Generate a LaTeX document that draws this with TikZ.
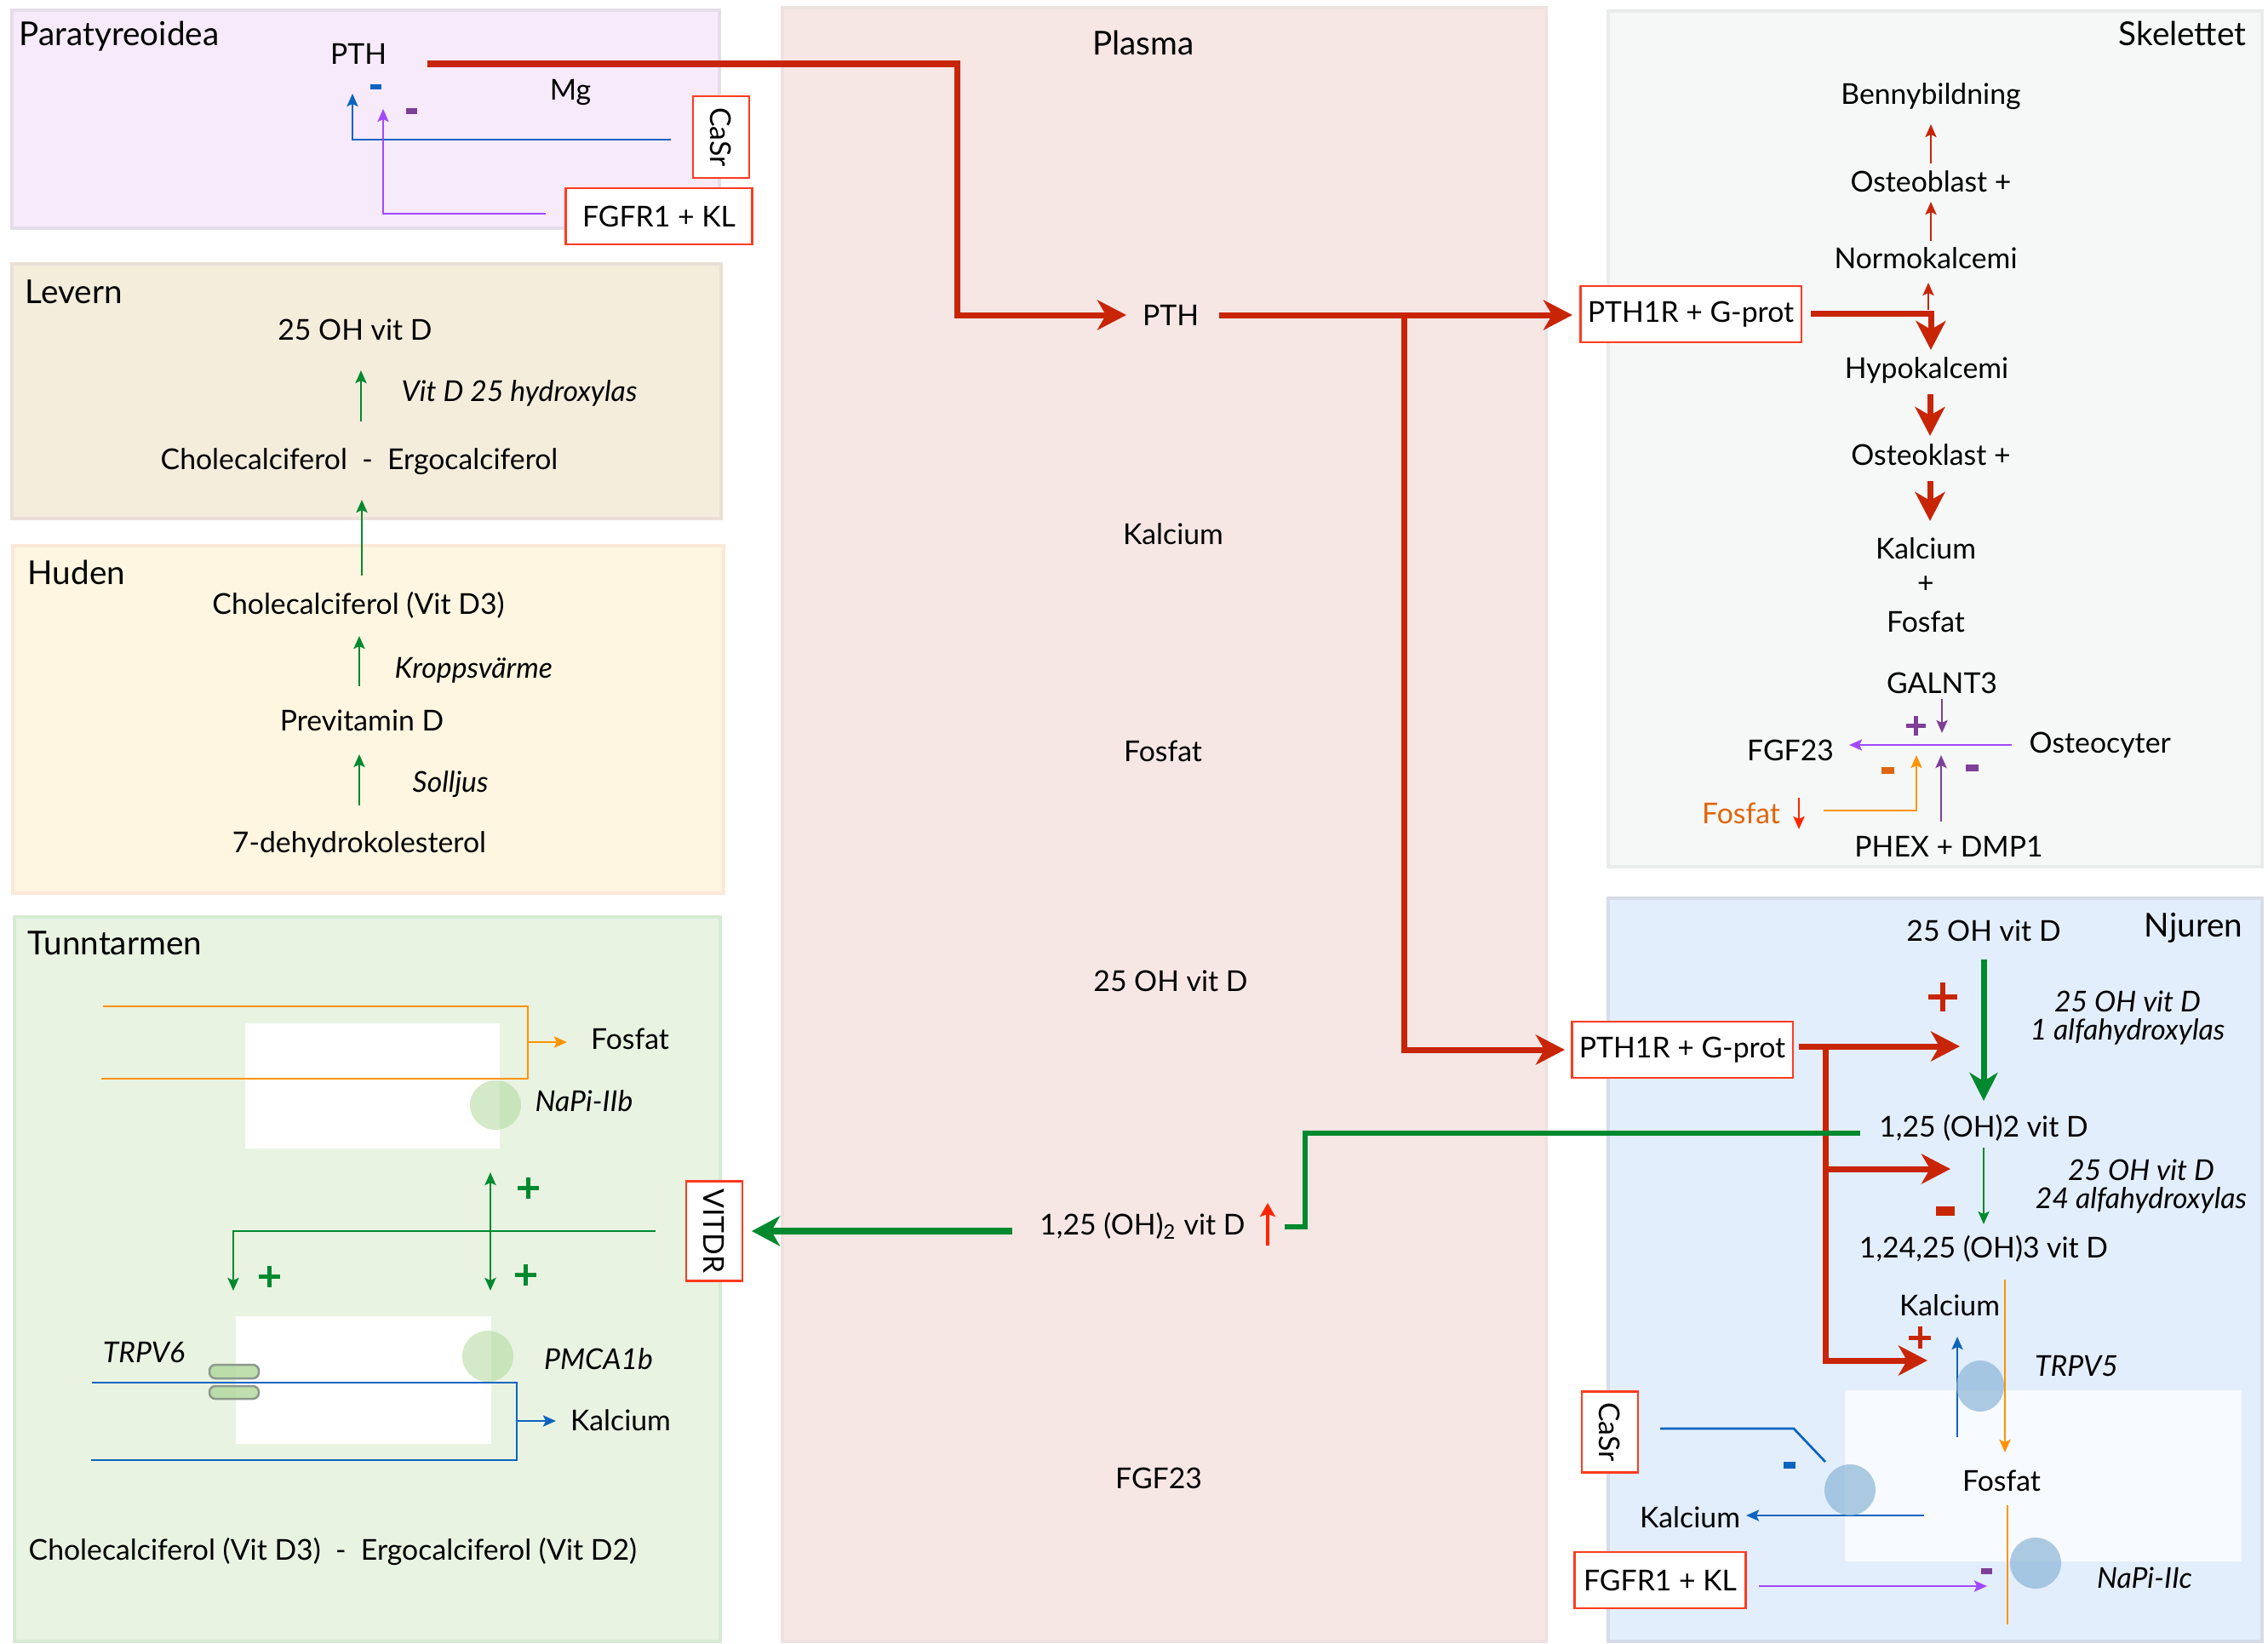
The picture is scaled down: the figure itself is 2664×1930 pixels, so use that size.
\documentclass[tikz,border=0pt]{standalone}
\usepackage{fontspec}
\setmainfont{Lato}
\usetikzlibrary{arrows.meta}

% line and sign colours
\definecolor{pthred}{RGB}{200,37,6}
\definecolor{boxred}{RGB}{255,59,30}
\definecolor{vdgreen}{RGB}{0,137,46}
\definecolor{cablue}{RGB}{11,100,192}
\definecolor{lilac}{RGB}{161,72,255}
\definecolor{plum}{RGB}{126,63,152}
\definecolor{amber}{RGB}{255,147,0}
\definecolor{rust}{RGB}{224,101,10}
\definecolor{alert}{RGB}{255,38,0}
% organ panels
\definecolor{paraF}{RGB}{247,234,251}\definecolor{paraB}{RGB}{230,221,234}
\definecolor{levF}{RGB}{245,237,220}\definecolor{levB}{RGB}{234,224,216}
\definecolor{hudF}{RGB}{254,246,224}\definecolor{hudB}{RGB}{252,232,214}
\definecolor{tunF}{RGB}{232,243,226}\definecolor{tunB}{RGB}{214,235,210}
\definecolor{plaF}{RGB}{246,231,229}\definecolor{plaB}{RGB}{238,226,225}
\definecolor{skeF}{RGB}{246,248,248}\definecolor{skeB}{RGB}{234,236,236}
\definecolor{njuF}{RGB}{227,238,252}\definecolor{njuB}{RGB}{213,221,232}
\definecolor{cellF}{RGB}{247,250,254}
\definecolor{gutcarrier}{RGB}{175,216,155}
\definecolor{kidcarrier}{RGB}{140,182,215}
\definecolor{chanB}{RGB}{140,152,140}

% stimulating / inhibiting marks
\newcommand{\plusmark}[5]{\draw[#5, line width=#4] ({#1-#3/2},#2) -- ({#1+#3/2},#2) (#1,{#2-#3/2}) -- (#1,{#2+#3/2});}
\newcommand{\minusmark}[5]{\fill[#5] ({#1-#3/2},{#2-#4/2}) rectangle ({#1+#3/2},{#2+#4/2});}

\begin{document}
\begin{tikzpicture}[x=0.01cm,y=-0.01cm,
  every node/.style={inner sep=0pt},
  font=\fontsize{9.6}{11.5}\selectfont,
  >={Stealth[length=1.5mm,width=1.3mm,inset=0.3mm]},
  ttl/.style={font=\fontsize{11}{13.2}\selectfont},
  itx/.style={font=\fontsize{9.6}{9.4}\selectfont\itshape, align=center},
  region/.style={line width=0.45mm},
  rbox/.style={draw=boxred, fill=white, line width=0.22mm, minimum height=6.6mm},
  vbox/.style={rbox, rotate=-90},
  tarr/.style={line width=0.27mm, ->},
  tline/.style={line width=0.27mm},
  bigarr/.style={line width=0.7mm, -{Stealth[length=3.4mm,width=3.5mm,inset=1mm]}},
  bigline/.style={line width=0.7mm},
  gutcell/.style={fill=white},
  gutpump/.style={fill=gutcarrier, fill opacity=0.55},
  kidpump/.style={fill=kidcarrier, fill opacity=0.7},
]
\useasboundingbox (0,0) rectangle (2664,1930);

% ---------- panels ----------
\draw[region, draw=paraB, fill=paraF] (14,12) rectangle (845,268);
\draw[region, draw=levB, fill=levF] (14,310) rectangle (847,609);
\draw[region, draw=hudB, fill=hudF] (15,641) rectangle (850,1049);
\draw[region, draw=tunB, fill=tunF] (17,1077) rectangle (846,1928);
\draw[region, draw=plaB, fill=plaF] (919,9) rectangle (1816,1928);
\draw[region, draw=skeB, fill=skeF] (1889,13) rectangle (2657,1018);
\draw[region, draw=njuB, fill=njuF] (1889,1055) rectangle (2657,1928);

\node[ttl, anchor=west] (tPara) at (22,43) {Paratyreoidea};
\node[ttl, anchor=west] (tLev) at (29,343) {Levern};
\node[ttl, anchor=west] (tHud) at (32,672) {Huden};
\node[ttl, anchor=west] (tTun) at (32,1108) {Tunntarmen};
\node[ttl] (tPla) at (1343,50) {Plasma};
\node[ttl, anchor=east] (tSke) at (2639,39) {Skelettet};
\node[ttl, anchor=east] (tNju) at (2635,1090) {Njuren};

% ---------- cells ----------
\fill[gutcell] (288,1202) rectangle (587,1349);
\fill[gutcell] (277,1546) rectangle (577,1696);
\fill[cellF] (2167,1633) rectangle (2633,1834);

% ---------- Paratyreoidea ----------
\node (pthP) at (421,63) {PTH};
\node (mgP) at (670,108) {Mg};
\coordinate (bP1) at (788,164); \coordinate (bP2) at (414,164); \coordinate (bP3) at (414,110);
\draw[tarr, cablue] (bP1) -- (bP2) -- (bP3);
\coordinate (vP1) at (641,251); \coordinate (vP2) at (450,251); \coordinate (vP3) at (450,128);
\draw[tarr, lilac] (vP1) -- (vP2) -- (vP3);
\minusmark{441}{102}{13}{6}{cablue}
\minusmark{483}{130}{13}{7}{plum}
\node[vbox, minimum width=9.6mm] (casrP) at (847,161) {CaSr};
\node[rbox, minimum width=21.9mm] (fgfrP) at (774,254) {FGFR1 + KL};

% ---------- Levern / Huden ----------
\node (ohL) at (417,387) {25 OH vit D};
\node[itx, anchor=west] (hydL) at (471,462) {Vit D 25 hydroxylas};
\node (cholL) at (422,542) {Cholecalciferol\ \ -\ \ Ergocalciferol};
\coordinate (aL1) at (424,495); \coordinate (aL2) at (424,435);
\draw[tarr, vdgreen] (aL1) -- (aL2);
\coordinate (aH0) at (425,676); \coordinate (aL3) at (425,587);
\draw[tarr, vdgreen] (aH0) -- (aL3);
\node (d3H) at (421,711) {Cholecalciferol (Vit D3)};
\node[itx, anchor=west] (kvH) at (463,787) {Kroppsvärme};
\node (preH) at (425,846) {Previtamin D};
\node[itx, anchor=west] (sjH) at (484,921) {Solljus};
\node (dhcH) at (422,992) {7-dehydrokolesterol};
\coordinate (aH1) at (422,806); \coordinate (aH2) at (422,747);
\draw[tarr, vdgreen] (aH1) -- (aH2);
\coordinate (aH3) at (422,946); \coordinate (aH4) at (422,886);
\draw[tarr, vdgreen] (aH3) -- (aH4);

% ---------- Plasma ----------
\node (pthM) at (1375,370) {PTH};
\node (caM) at (1378,627) {Kalcium};
\node (phM) at (1366,882) {Fosfat};
\node (ohM) at (1375,1152) {25 OH vit D};
\node (dM) at (1342,1440) {1,25 (OH)\textsubscript{2} vit D};
\node (fgfM) at (1361,1736) {FGF23};
\coordinate (upM1) at (1489,1463); \coordinate (upM2) at (1489,1413);
\draw[alert, line width=0.4mm, -{Stealth[length=1.6mm,width=1.8mm,inset=0.3mm]}] (upM1) -- (upM2);

% PTH secretion
\coordinate (rP0) at (502,75); \coordinate (rP1) at (1124,75);
\coordinate (rP2) at (1124,370); \coordinate (rM0) at (1323,370);
\draw[bigarr, pthred] (rP0) -- (rP1) -- (rP2) -- (rM0);
\coordinate (rM1) at (1432,370); \coordinate (rM2) at (1847,370);
\draw[bigarr, pthred] (rM1) -- (rM2);
\coordinate (rM3) at (1649,370); \coordinate (rM4) at (1649,1233); \coordinate (rM5) at (1838,1233);
\draw[bigarr, pthred] (rM3) -- (rM4) -- (rM5);

% ---------- Skelettet ----------
\node (benS) at (2268,113) {Bennybildning};
\node (obS) at (2268,213) {Osteoblast +};
\node (normS) at (2262,303) {Normokalcemi};
\node (hypoS) at (2263,435) {Hypokalcemi};
\node (okS) at (2268,534) {Osteoklast +};
\node (caS) at (2262,644) {Kalcium};
\node (plS) at (2262,687) {+};
\node (phS) at (2262,730) {Fosfat};
\node (galS) at (2281,802) {GALNT3};
\node (fgfS) at (2103,881) {FGF23};
\node[anchor=west] (ocS) at (2383,875) {Osteocyter};
\node[text=rust] (phoS) at (2045,955) {Fosfat};
\node (phexS) at (2289,994) {PHEX + DMP1};

\coordinate (sA1) at (2268,192); \coordinate (sA2) at (2268,146);
\draw[tarr, pthred] (sA1) -- (sA2);
\coordinate (sA3) at (2268,283); \coordinate (sA4) at (2268,237);
\draw[tarr, pthred] (sA3) -- (sA4);
\coordinate (sA5) at (2265,364); \coordinate (sA6) at (2265,332);
\draw[tarr, pthred] (sA5) -- (sA6);
\coordinate (sR0) at (2127,368); \coordinate (sR1) at (2268,368); \coordinate (sR2) at (2268,411);
\draw[bigarr, pthred] (sR0) -- (sR1) -- (sR2);
\coordinate (sB1) at (2267,463); \coordinate (sB2) at (2267,512);
\draw[bigarr, pthred] (sB1) -- (sB2);
\coordinate (sB3) at (2267,565); \coordinate (sB4) at (2267,612);
\draw[bigarr, pthred] (sB3) -- (sB4);
\node[rbox, minimum width=25.9mm] (pthrS) at (1986,369) {PTH1R + G-prot};

\coordinate (gS1) at (2281,821); \coordinate (gS2) at (2281,861);
\draw[tarr, plum] (gS1) -- (gS2);
\plusmark{2250}{852}{23}{0.5mm}{plum}
\coordinate (oS1) at (2363,875); \coordinate (oS2) at (2172,875);
\draw[tarr, lilac] (oS1) -- (oS2);
\coordinate (fS1) at (2142,952); \coordinate (fS2) at (2251,952); \coordinate (fS3) at (2251,887);
\draw[tarr, amber] (fS1) -- (fS2) -- (fS3);
\coordinate (xS1) at (2280,965); \coordinate (xS2) at (2280,887);
\draw[tarr, plum] (xS1) -- (xS2);
\coordinate (dS1) at (2113,937); \coordinate (dS2) at (2113,974);
\draw[tarr, alert] (dS1) -- (dS2);
\minusmark{2217}{905}{15}{8}{rust}
\minusmark{2316}{902}{15}{8}{plum}

% ---------- Njuren ----------
\node (ohK) at (2330,1093) {25 OH vit D};
\node[itx] (ahK) at (2499,1196) {25 OH vit D\\1 alfahydroxylas};
\node (dK) at (2330,1325) {1,25 (OH)2 vit D};
\node[itx] (bhK) at (2515,1394) {25 OH vit D\\24 alfahydroxylas};
\node (tK) at (2330,1467) {1,24,25 (OH)3 vit D};
\node (caK1) at (2290,1533) {Kalcium};
\node[itx] (trpK) at (2439,1605) {TRPV5};
\node (phK) at (2351,1739) {Fosfat};
\node (caK2) at (1985,1782) {Kalcium};
\node[itx] (napK) at (2519,1853) {NaPi-IIc};

\coordinate (gK1) at (2330,1127); \coordinate (gK2) at (2330,1293);
\draw[vdgreen, line width=0.7mm, -{Stealth[length=3.3mm,width=3.3mm,inset=1mm]}] (gK1) -- (gK2);
\coordinate (gK3) at (2330,1348); \coordinate (gK4) at (2330,1438);
\draw[tarr, vdgreen] (gK3) -- (gK4);
\plusmark{2282}{1171}{34}{0.6mm}{pthred}
\minusmark{2285}{1422}{22}{11}{pthred}

\coordinate (rK0) at (2113,1229); \coordinate (rK1) at (2302,1229);
\draw[bigarr, pthred] (rK0) -- (rK1);
\coordinate (rK2) at (2144,1229); \coordinate (rK3) at (2144,1598); \coordinate (rK4) at (2264,1598);
\draw[bigarr, pthred] (rK2) -- (rK3) -- (rK4);
\coordinate (rK5) at (2144,1373); \coordinate (rK6) at (2291,1373);
\draw[bigarr, pthred] (rK5) -- (rK6);
\plusmark{2255}{1571}{26}{0.5mm}{pthred}

% calcitriol released to plasma and on to the gut receptor
\coordinate (gM0) at (2185,1331); \coordinate (gM1) at (1533,1331);
\coordinate (gM2) at (1533,1441); \coordinate (gM3) at (1509,1441);
\draw[vdgreen, line width=0.6mm] (gM0) -- (gM1) -- (gM2) -- (gM3);
\coordinate (gV0) at (1189,1446); \coordinate (gV1) at (883,1446);
\draw[vdgreen, line width=0.8mm, -{Stealth[length=3.3mm,width=3.5mm,inset=1mm]}] (gV0) -- (gV1);

% tubular transport
\coordinate (oK1) at (2355,1503); \coordinate (oK2) at (2355,1706);
\draw[tarr, amber] (oK1) -- (oK2);
\coordinate (bK1) at (2299,1688); \coordinate (bK2) at (2299,1570);
\draw[tarr, cablue] (bK1) -- (bK2);
\coordinate (cK1) at (1950,1678); \coordinate (cK2) at (2107,1678); \coordinate (cK3) at (2144,1717);
\draw[tline, cablue] (cK1) -- (cK2) -- (cK3);
\minusmark{2102}{1721}{14}{8}{cablue}
\coordinate (bK3) at (2260,1780); \coordinate (bK4) at (2051,1780);
\draw[tarr, cablue] (bK3) -- (bK4);
\coordinate (oK3) at (2358,1768); \coordinate (oK4) at (2358,1908);
\draw[tline, amber] (oK3) -- (oK4);
\coordinate (pK1) at (2066,1863); \coordinate (pK2) at (2334,1863);
\draw[tarr, lilac] (pK1) -- (pK2);
\minusmark{2333}{1845}{13}{7}{plum}
\fill[kidpump] (2326,1628) ellipse [x radius=28, y radius=30];
\fill[kidpump] (2173,1750) ellipse [x radius=30, y radius=30];
\fill[kidpump] (2391,1836) ellipse [x radius=30, y radius=30];

\node[rbox, minimum width=25.9mm] (pthrK) at (1976,1233) {PTH1R + G-prot};
\node[vbox, minimum width=9.5mm] (casrK) at (1891,1682) {CaSr};
\node[rbox, minimum width=20.1mm] (fgfrK) at (1950,1856) {FGFR1 + KL};

% ---------- Tunntarmen ----------
\coordinate (oT1) at (121,1182); \coordinate (oT2) at (620,1182);
\coordinate (oT3) at (620,1267); \coordinate (oT4) at (119,1267);
\draw[tline, amber] (oT1) -- (oT2) -- (oT3) -- (oT4);
\coordinate (oT5) at (620,1224); \coordinate (oT6) at (666,1224);
\draw[tarr, amber] (oT5) -- (oT6);
\node (phT) at (740,1220) {Fosfat};
\node[itx] (napT) at (686,1293) {NaPi-IIb};

\coordinate (gT1) at (576,1377); \coordinate (gT2) at (576,1516);
\draw[tline, vdgreen, <->] (gT1) -- (gT2);
\coordinate (gT3) at (770,1446); \coordinate (gT4) at (274,1446); \coordinate (gT5) at (274,1516);
\draw[tarr, vdgreen] (gT3) -- (gT4) -- (gT5);
\plusmark{620}{1395}{25}{0.5mm}{vdgreen}
\plusmark{316}{1499}{25}{0.5mm}{vdgreen}
\plusmark{617}{1497}{25}{0.5mm}{vdgreen}

\coordinate (bT1) at (108,1624); \coordinate (bT2) at (607,1624);
\coordinate (bT3) at (607,1715); \coordinate (bT4) at (107,1715);
\draw[tline, cablue] (bT1) -- (bT2) -- (bT3) -- (bT4);
\coordinate (bT5) at (607,1669); \coordinate (bT6) at (653,1669);
\draw[tarr, cablue] (bT5) -- (bT6);
\node (caT) at (729,1668) {Kalcium};
\node[itx] (trpT) at (169,1589) {TRPV6};
\node[itx] (pmcT) at (703,1596) {PMCA1b};
\node[anchor=west] (vdT) at (33,1822) {Cholecalciferol (Vit D3)\ \ -\ \ Ergocalciferol (Vit D2)};

\fill[gutpump] (582,1298) ellipse [x radius=30, y radius=29];
\fill[gutpump] (573,1593) ellipse [x radius=30, y radius=30];
\draw[chanB, line width=0.25mm, fill=gutcarrier, fill opacity=0.8, rounded corners=0.7mm] (246,1603) rectangle (304,1619);
\draw[chanB, line width=0.25mm, fill=gutcarrier, fill opacity=0.8, rounded corners=0.7mm] (246,1628) rectangle (304,1643);

\node[vbox, minimum width=11.7mm] (vdrT) at (839,1446) {VITDR};
\end{tikzpicture}
\end{document}
